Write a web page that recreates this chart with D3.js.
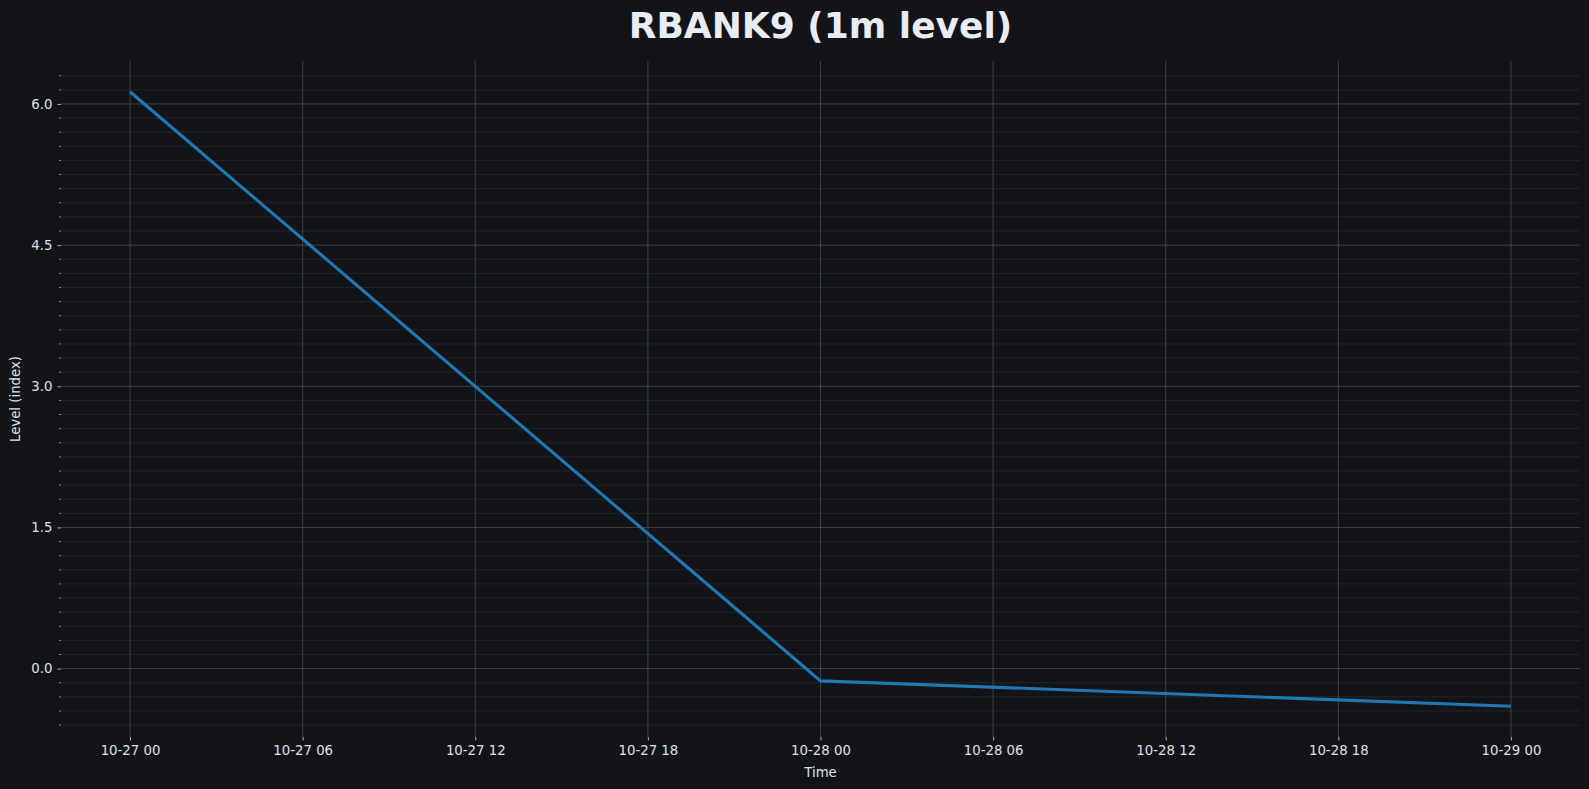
<!DOCTYPE html>
<html>
<head>
<meta charset="utf-8">
<script src="https://cdn.jsdelivr.net/npm/d3@7"></script>
<style>
  html, body { margin: 0; padding: 0; background: #121418; }
  svg { display: block; font-family: "DejaVu Sans", sans-serif; }
</style>
</head>
<body>
<div id="chart"></div>
<script>
// data
const times = ["2024-10-27T00:00", "2024-10-28T00:00", "2024-10-29T00:00"];
const levels = [6.13, -0.13, -0.40];
const yTicks = [0.0, 1.5, 3.0, 4.5, 6.0];

const w = 1589, h = 789;
const margin = {top: 61, right: 9, bottom: 52, left: 61};

const parse = d3.timeParse("%Y-%m-%dT%H:%M");
const dataset = times.map((t, i) => [parse(t), levels[i]]);

const svg = d3.select("#chart")
  .append("svg")
  .attr("width", w)
  .attr("height", h);

svg.append("rect").attr("width", w).attr("height", h).attr("fill", "#121418");

// matplotlib-style 5% margins
const xExt = d3.extent(dataset, d => d[0]);
const xPad = (xExt[1] - xExt[0]) * 0.05;
const yExt = d3.extent(dataset, d => d[1]);
const yPad = (yExt[1] - yExt[0]) * 0.05;

const xScale = d3.scaleTime()
  .domain([new Date(+xExt[0] - xPad), new Date(+xExt[1] + xPad)])
  .range([margin.left, w - margin.right]);
const yScale = d3.scaleLinear()
  .domain([yExt[0] - yPad, yExt[1] + yPad])
  .range([h - margin.bottom, margin.top]);

const x0 = margin.left, x1 = w - margin.right;
const y0 = margin.top, y1 = h - margin.bottom;

const xTicks = d3.timeHour.every(6).range(xExt[0], new Date(+xExt[1] + 1));

// minor y gridlines every 0.15
const minor = d3.range(-4, 44).map(i => i * 0.15)
  .filter(v => yScale(v) <= y1 - 3 && yScale(v) >= y0 + 3)
  .filter(v => Math.abs(v / 1.5 - Math.round(v / 1.5)) > 1e-6);

svg.append("g").selectAll("line")
  .data(minor)
  .enter()
  .append("line")
  .attr("x1", x0).attr("x2", x1)
  .attr("y1", d => yScale(d)).attr("y2", d => yScale(d))
  .attr("stroke", "#26292e").attr("stroke-width", 0.8);

svg.append("g").selectAll("line")
  .data(yTicks)
  .enter()
  .append("line")
  .attr("x1", x0).attr("x2", x1)
  .attr("y1", d => yScale(d)).attr("y2", d => yScale(d))
  .attr("stroke", "#4a4d53").attr("stroke-width", 0.8);

svg.append("g").selectAll("line")
  .data(xTicks)
  .enter()
  .append("line")
  .attr("x1", d => xScale(d)).attr("x2", d => xScale(d))
  .attr("y1", y0).attr("y2", y1)
  .attr("stroke", "#4a4d53").attr("stroke-width", 0.8);

// line
const line = d3.line()
  .x(d => xScale(d[0]))
  .y(d => yScale(d[1]));

svg.append("path")
  .datum(dataset)
  .attr("d", line)
  .attr("fill", "none")
  .attr("stroke", "#1f77b4")
  .attr("stroke-width", 3.1);

// axes
const xAxis = d3.axisBottom(xScale)
  .tickValues(xTicks)
  .tickFormat(d3.timeFormat("%m-%d %H"))
  .tickSize(3.5)
  .tickPadding(5);
const gx = svg.append("g")
  .attr("transform", "translate(0," + y1 + ")")
  .call(xAxis);

const yAxis = d3.axisLeft(yScale)
  .tickValues(yTicks)
  .tickFormat(d3.format(".1f"))
  .tickSize(3.5)
  .tickPadding(5);
const gy = svg.append("g")
  .attr("transform", "translate(" + x0 + ",0)")
  .call(yAxis);

svg.append("g").selectAll("line")
  .data(minor)
  .enter()
  .append("line")
  .attr("x1", x0 - 2).attr("x2", x0)
  .attr("y1", d => yScale(d)).attr("y2", d => yScale(d))
  .attr("stroke", "#cfd3da").attr("stroke-width", 0.6);

[gx, gy].forEach(g => {
  g.select(".domain").remove();
  g.selectAll(".tick line").attr("stroke", "#cfd3da").attr("stroke-width", 0.8);
  g.selectAll(".tick text")
    .attr("fill", "#dde1e8")
    .style("font-size", "13.3px")
    .style("font-family", "DejaVu Sans");
});

// labels
svg.append("text")
  .attr("x", (x0 + x1) / 2)
  .attr("y", 38)
  .attr("text-anchor", "middle")
  .attr("fill", "#e8ecf4")
  .style("font-size", "36px")
  .style("font-weight", "bold")
  .text("RBANK9 (1m level)");

svg.append("text")
  .attr("x", (x0 + x1) / 2)
  .attr("y", 777)
  .attr("text-anchor", "middle")
  .attr("fill", "#dde1e8")
  .style("font-size", "13.3px")
  .text("Time");

svg.append("text")
  .attr("transform", "translate(20," + ((y0 + y1) / 2) + ") rotate(-90)")
  .attr("text-anchor", "middle")
  .attr("fill", "#dde1e8")
  .style("font-size", "13.3px")
  .text("Level (index)");
</script>
</body>
</html>
